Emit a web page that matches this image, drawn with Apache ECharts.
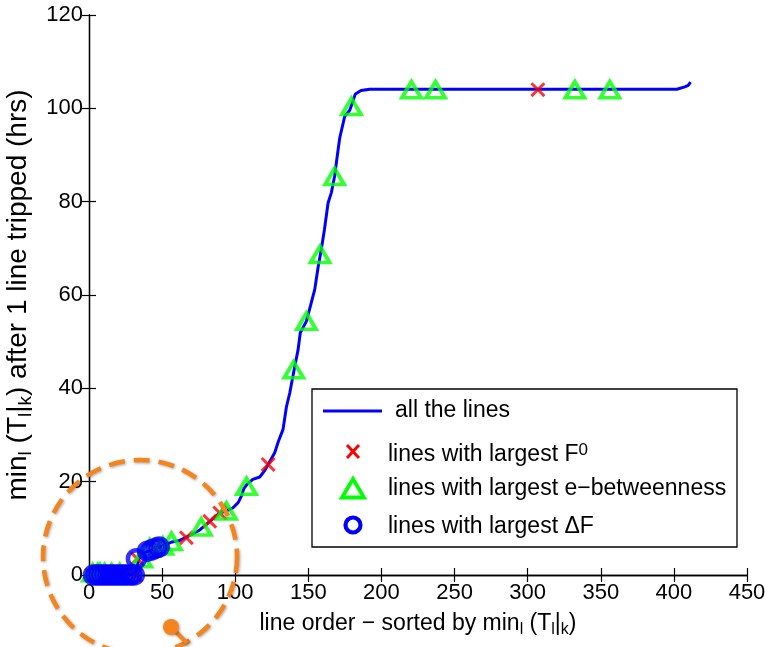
<!DOCTYPE html>
<html>
<head>
<meta charset="utf-8">
<script src="https://cdn.jsdelivr.net/npm/echarts@6/dist/echarts.min.js"></script>
<style>
html,body{margin:0;padding:0;background:#fff;}
#chart{width:765px;height:647px;}
</style>
</head>
<body>
<div id="chart"></div>
<script>
// ---- data ----
const allLines = [[1,0],[20,0.1],[32,0.3],[34,3.5],[38,4.8],[44,5.5],[50,6.2],[56,7],[62,7.4],[66,8],[71,8.8],[76,9.7],[82.6,11.5],[89,13.2],[94,13.8],[98.5,14.4],[102,15.5],[104.2,16.9],[106,18.6],[108,19.4],[112,20.5],[116.8,21],[120,22.3],[122.5,23.7],[127,26.2],[129.5,28.6],[132.7,31.2],[135,36],[137.3,39],[140,43.5],[143,48.3],[144.5,51.9],[148.7,54.4],[151.4,57.6],[154.4,61.2],[156.7,66],[159,70],[161,74],[163.5,79.7],[165.8,82],[168,85.5],[170.3,91],[171.5,93.7],[174.9,98.3],[178.3,99.6],[180.5,101.5],[182,103],[186,103.8],[192,104.1],[402,104.1],[407.5,104.6],[409.8,104.9],[411.4,105.6]];
const largestF0 = [[2,0],[12,0],[32,0],[33,3.5],[45,5.5],[66.6,8],[82.6,11.5],[89.4,13.3],[122.5,23.7],[307,104]];
const largestBetweenness = [[2.5,0.5],[6,0.5],[7.5,0.5],[10.7,0.5],[15.5,0.5],[21,0.5],[36,3.5],[41.5,5.8],[50.5,6.2],[56.4,7.2],[76.8,10.3],[94,13.7],[107.7,19],[140,44],[148.7,54.4],[158,68.7],[168,85.4],[179.5,100.4],[220.5,104],[237,104],[332.3,104],[356.2,104]];
const largestDeltaF = [[3,0],[5,0],[7,0],[9,0],[11,0],[13,0],[15,0],[17,0],[19,0],[21,0],[23,0],[25,0],[27,0],[29,0],[31,0],[32.4,3.5],[40,5.1],[43,5.4],[46,5.8],[48,6]];
const xMin = 0, xMax = 450, xStep = 50;
const yMin = 0, yMax = 120, yStep = 20;
const legendLabels = ['all the lines', 'lines with largest F{sup|0}', 'lines with largest e\u2212betweenness', 'lines with largest \u0394F'];
const xTitle = 'line order \u2212 sorted by min{s|l} (T{s|l}|{s|k})';
const yTitle = 'min{s|l} (T{s|l}|{s|k}) after 1 line tripped (hrs)';

const FONT = '"Liberation Sans", Arial, Helvetica, sans-serif';
const BLUE = '#0000ff', RED = '#ff0000', GREEN = '#00ff00', ORANGE = '#f5841f';
const xPath = 'path://M0,14 L14,0 L50,36 L86,0 L100,14 L64,50 L100,86 L86,100 L50,64 L14,100 L0,86 L36,50 Z';

const chart = echarts.init(document.getElementById('chart'), null, {renderer: 'canvas'});

const axisLine = {show: true, lineStyle: {color: '#000', width: 1.3}};
const axisTick = {show: true, inside: true, length: 7, lineStyle: {color: '#000', width: 1.2}};
const subRichX = {s: {fontSize: 16, fontFamily: FONT, color: '#000', verticalAlign: 'bottom', lineHeight: 16}};
const subRichY = {s: {fontSize: 19, fontFamily: FONT, color: '#000', verticalAlign: 'bottom', lineHeight: 19}};

function legendGraphics() {
  const L = 312, T = 389, W = 425, H = 158;
  const g = [];
  g.push({type: 'rect', shape: {x: L, y: T, width: W, height: H}, style: {fill: '#fff', stroke: '#000', lineWidth: 1.3}, z: 50});
  g.push({type: 'line', shape: {x1: 323, y1: 411, x2: 382, y2: 411}, style: {stroke: BLUE, lineWidth: 3}, z: 51});
  g.push({type: 'line', shape: {x1: 347, y1: 445, x2: 359, y2: 458}, style: {stroke: RED, lineWidth: 3}, z: 51});
  g.push({type: 'line', shape: {x1: 359, y1: 445, x2: 347, y2: 458}, style: {stroke: RED, lineWidth: 3}, z: 51});
  g.push({type: 'polygon', shape: {points: [[353, 479], [342, 497.5], [364, 497.5]]}, style: {fill: 'none', stroke: GREEN, lineWidth: 3.8}, z: 51});
  g.push({type: 'circle', shape: {cx: 353, cy: 525, r: 7.5}, style: {fill: 'none', stroke: BLUE, lineWidth: 4.2}, z: 51});
  const ys = [411, 455, 489, 527];
  const xs = [395, 388, 388, 388];
  legendLabels.forEach((t, i) => {
    g.push({type: 'text', x: xs[i], y: ys[i], z: 52, style: {
      text: t, fill: '#000', fontSize: 23, fontFamily: FONT,
      verticalAlign: 'middle', align: 'left', lineHeight: 26,
      rich: {sup: {fontSize: 17, fontFamily: FONT, fill: '#000', verticalAlign: 'top', lineHeight: 17}}
    }});
  });
  return g;
}

function annotationGraphics() {
  const shadow = {shadowBlur: 3, shadowColor: 'rgba(0,0,0,0.35)', shadowOffsetX: 1, shadowOffsetY: 1};
  return [
    {type: 'circle', z: 100, shape: {cx: 140, cy: 557, r: 97}, style: Object.assign({fill: 'none', stroke: ORANGE, lineWidth: 4.5, lineDash: [16, 9]}, shadow)},
    {type: 'line', z: 100, shape: {x1: 171, y1: 627, x2: 187, y2: 643}, style: Object.assign({stroke: ORANGE, lineWidth: 4}, shadow)},
    {type: 'circle', z: 101, shape: {cx: 171, cy: 627, r: 8}, style: Object.assign({fill: ORANGE}, shadow)}
  ];
}

const option = {
  backgroundColor: '#fff',
  animation: false,
  textStyle: {fontFamily: FONT},
  grid: {left: 89, right: 18, top: 15, bottom: 72, containLabel: false, outerBoundsMode: 'none'},
  xAxis: [{
    type: 'value', min: xMin, max: xMax, interval: xStep, position: 'bottom',
    axisLine: axisLine, axisTick: axisTick, splitLine: {show: false},
    axisLabel: {color: '#000', fontSize: 22, fontFamily: FONT, margin: 7},
    name: xTitle, nameLocation: 'middle', nameGap: 34,
    nameTextStyle: {color: '#000', fontSize: 23, fontFamily: FONT, lineHeight: 29, rich: subRichX}
  }, {
    type: 'value', min: xMin, max: xMax, interval: xStep, position: 'top',
    axisLine: axisLine, axisTick: axisTick, splitLine: {show: false}, axisLabel: {show: false}
  }],
  yAxis: [{
    type: 'value', min: yMin, max: yMax, interval: yStep, position: 'left',
    axisLine: axisLine, axisTick: axisTick, splitLine: {show: false},
    axisLabel: {color: '#000', fontSize: 22, fontFamily: FONT, margin: 6},
    name: yTitle, nameLocation: 'middle', nameGap: 44, nameRotate: 90,
    nameTextStyle: {color: '#000', fontSize: 28, fontFamily: FONT, lineHeight: 34, rich: subRichY}
  }, {
    type: 'value', min: yMin, max: yMax, interval: yStep, position: 'right',
    axisLine: axisLine, axisTick: axisTick, splitLine: {show: false}, axisLabel: {show: false}
  }],
  series: [{
    name: 'all the lines', type: 'line', data: allLines, showSymbol: false, symbol: 'none',
    lineStyle: {color: BLUE, width: 3}, z: 2, silent: true
  }, {
    name: 'lines with largest F0', type: 'scatter', data: largestF0, symbol: xPath, symbolSize: 15,
    itemStyle: {color: RED}, z: 3
  }, {
    name: 'lines with largest e-betweenness', type: 'scatter', data: largestBetweenness, symbol: 'triangle', symbolSize: [19, 16],
    itemStyle: {color: 'rgba(0,0,0,0)', borderColor: GREEN, borderWidth: 3.8}, z: 4
  }, {
    name: 'lines with largest dF', type: 'scatter', data: largestDeltaF, symbol: 'circle', symbolSize: 17,
    itemStyle: {color: 'rgba(0,0,0,0)', borderColor: BLUE, borderWidth: 4.5}, z: 5
  }],
  graphic: legendGraphics().concat(annotationGraphics())
};
chart.setOption(option);
</script>
</body>
</html>
